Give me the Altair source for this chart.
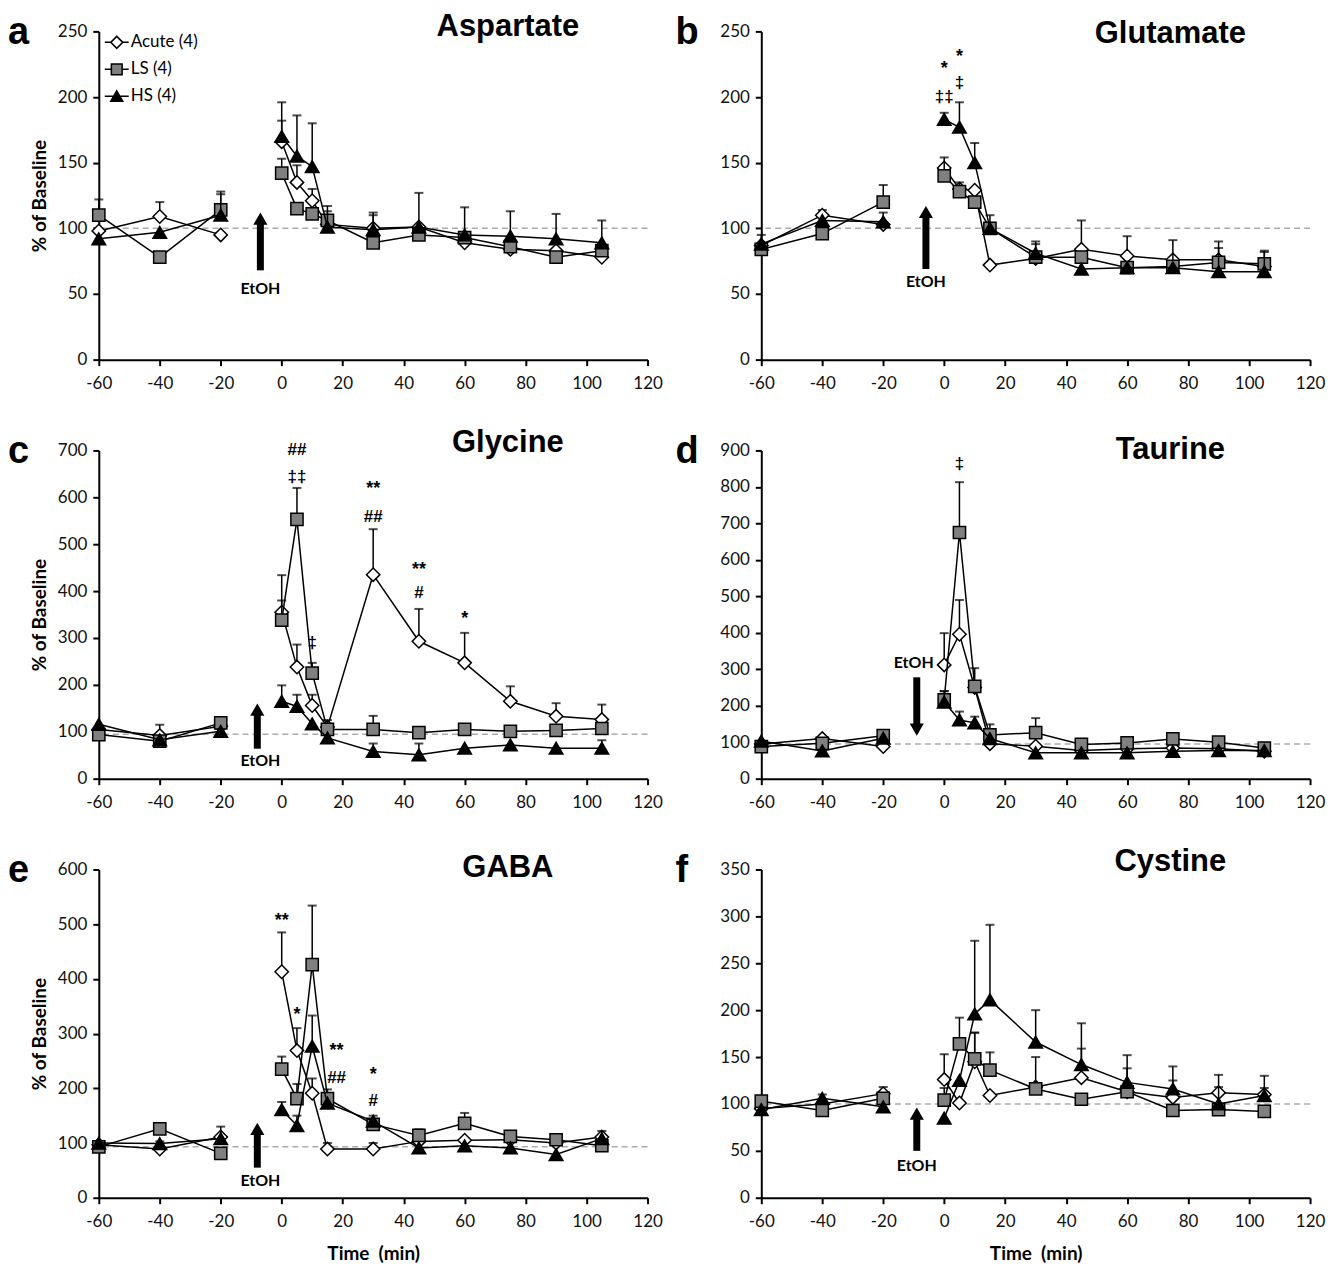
import altair as alt
import pandas as pd

# ---------------- data ----------------
TIME = [-60, -40, -20, 0, 5, 10, 15, 30, 45, 60, 75, 90, 105]
SERIES = ["Acute", "LS", "HS"]
LEGEND_LABELS = ["Acute (4)", "LS (4)", "HS (4)"]

# a) Aspartate
ASP_ACUTE = [98, 109, 95, 166, 135, 121, 103, 100, 101, 89, 84, 83, 78]
ASP_ACUTE_UP = [None, 120, None, 182, 148, 130, None, 112, None, None, None, None, None]
ASP_LS = [110, 78, 114, 142, 115, 111, 106, 89, 95, 93, 86, 78, 83]
ASP_LS_UP = [122, None, 128, 153, None, None, 117, None, None, None, None, None, None]
ASP_HS = [92, 97, 110, 170, 155, 147, 101, 99, 101, 95, 94, 92, 89]
ASP_HS_UP = [None, None, 126, 196, 186, 180, 113, 110, 127, 116, 113, 111, 106]

# b) Glutamate
GLU_ACUTE = [87, 110, 103, 146, 130, 129, 72, 77, 84, 79, 76, 76, 71]
GLU_ACUTE_UP = [None, 114, None, None, None, None, None, None, 106, 94, None, 90, None]
GLU_LS = [84, 96, 120, 140, 128, 120, 100, 78, 78, 70, 71, 74, 73]
GLU_LS_UP = [95, None, 133, 154, 135, None, 110, 90, None, None, 91, None, 83]
GLU_HS = [88, 106, 105, 183, 177, 150, 100, 81, 69, 70, 70, 67, 67]
GLU_HS_UP = [None, None, 112, 188, 196, 165, None, 88, None, None, None, 85, 82]

# c) Glycine
GLY_ACUTE = [105, 92, 112, 355, 238, 156, 110, 435, 293, 247, 165, 133, 126]
GLY_ACUTE_UP = [None, 115, None, 434, 286, 179, None, 532, 362, 311, 197, 161, 158]
GLY_LS = [94, 80, 119, 338, 553, 225, 105, 105, 98, 105, 101, 103, 107]
GLY_LS_UP = [None, None, 128, 380, 620, 247, 125, 134, None, None, None, None, None]
GLY_HS = [116, 83, 101, 165, 154, 117, 87, 58, 51, 65, 72, 65, 65]
GLY_HS_UP = [None, None, None, 199, 179, None, None, 75, 75, None, None, None, 82]

# d) Taurine
TAU_ACUTE = [95, 110, 88, 312, 396, 250, 96, 89, 77, 82, 84, 82, 75]
TAU_ACUTE_UP = [None, None, None, 399, 490, None, None, None, None, None, None, None, None]
TAU_LS = [88, 97, 118, 216, 675, 253, 120, 126, 94, 98, 109, 100, 84]
TAU_LS_UP = [None, None, None, 240, 813, 303, 149, 166, None, None, None, None, None]
TAU_HS = [103, 76, 111, 210, 161, 153, 110, 71, 71, 71, 75, 77, 77]
TAU_HS_UP = [None, None, None, 240, 184, 170, None, None, None, None, None, None, None]

# e) GABA
GABA_ACUTE = [97, 89, 111, 413, 269, 191, 89, 89, 103, 105, 106, 100, 111]
GABA_ACUTE_UP = [None, 103, None, 485, 310, 218, 100, 100, None, None, None, None, None]
GABA_LS = [93, 126, 81, 235, 181, 426, 181, 134, 114, 136, 112, 106, 95]
GABA_LS_UP = [None, None, None, 258, 208, 534, 198, None, 125, 155, None, 112, None]
GABA_HS = [100, 99, 108, 161, 132, 277, 173, 140, 91, 95, 91, 79, 108]
GABA_HS_UP = [None, None, 130, 175, 150, 333, None, 150, None, None, None, None, 122]

# f) Cystine
CYS_ACUTE = [95, 100, 111, 126, 101, 145, 109, 118, 128, 113, 107, 112, 110]
CYS_ACUTE_UP = [None, None, 118, 153, None, 176, None, None, 159, 138, 125, 131, 117]
CYS_LS = [103, 93, 106, 104, 164, 148, 136, 116, 105, 113, 93, 94, 92]
CYS_LS_UP = [None, None, None, 117, 192, 176, 155, 150, None, None, None, None, None]
CYS_HS = [94, 106, 97, 85, 125, 196, 211, 166, 142, 123, 116, 100, 109]
CYS_HS_UP = [None, 110, None, None, None, 274, 291, 200, 186, 152, 140, 118, 130]

# significance marks: time, level, text
GLU_MARK_T = [0, 0, 5, 5]
GLU_MARK_V = [223, 200, 232, 211]
GLU_MARK_TXT = ["*", "‡‡", "*", "‡"]
GLY_MARK_T = [5, 5, 10, 30, 30, 45, 45, 60]
GLY_MARK_V = [700, 644, 290, 621, 557, 450, 395, 344]
GLY_MARK_TXT = ["##", "‡‡", "‡", "**", "##", "**", "#", "*"]
TAU_MARK_T = [5]
TAU_MARK_V = [864]
TAU_MARK_TXT = ["‡"]
GABA_MARK_T = [0, 5, 18, 18, 30, 30]
GABA_MARK_V = [510, 337, 272, 219, 228, 176]
GABA_MARK_TXT = ["**", "*", "**", "##", "*", "#"]

# EtOH arrows: time, tail level, tip level, label level
ARROW_T = [-7, -6, -8, -9, -8, -9]
ARROW_TAIL = [68, 69, 64, 278, 55, 50]
ARROW_TIP = [112, 117, 160, 118, 137, 96]
ARROW_LABEL_T = [-7, -6, -7, -10, -7, -9]
ARROW_LABEL_V = [54, 59, 38, 316, 31, 34]

PANEL_TITLES = ["Aspartate", "Glutamate", "Glycine", "Taurine", "GABA", "Cystine"]
PANEL_LETTERS = ["a", "b", "c", "d", "e", "f"]
Y_MAX = [250, 250, 700, 900, 600, 350]
Y_STEP = [50, 50, 100, 100, 100, 50]
BASELINE = [100, 100, 95, 95, 93, 100]

VALUES = [
    (ASP_ACUTE, ASP_ACUTE_UP, ASP_LS, ASP_LS_UP, ASP_HS, ASP_HS_UP),
    (GLU_ACUTE, GLU_ACUTE_UP, GLU_LS, GLU_LS_UP, GLU_HS, GLU_HS_UP),
    (GLY_ACUTE, GLY_ACUTE_UP, GLY_LS, GLY_LS_UP, GLY_HS, GLY_HS_UP),
    (TAU_ACUTE, TAU_ACUTE_UP, TAU_LS, TAU_LS_UP, TAU_HS, TAU_HS_UP),
    (GABA_ACUTE, GABA_ACUTE_UP, GABA_LS, GABA_LS_UP, GABA_HS, GABA_HS_UP),
    (CYS_ACUTE, CYS_ACUTE_UP, CYS_LS, CYS_LS_UP, CYS_HS, CYS_HS_UP),
]
MARKS = [None, (GLU_MARK_T, GLU_MARK_V, GLU_MARK_TXT), (GLY_MARK_T, GLY_MARK_V, GLY_MARK_TXT),
         (TAU_MARK_T, TAU_MARK_V, TAU_MARK_TXT), (GABA_MARK_T, GABA_MARK_V, GABA_MARK_TXT), None]

# ---------------- styling ----------------
W, H = 550, 329
LABEL_FONT = "Lato"
TITLE_FONT = "Liberation Sans"
MARK_FONT = "Liberation Sans"
STYLE = {
    "Acute": dict(shape="diamond", fill="white", size=180),
    "LS": dict(shape="square", fill="#808080", size=150),
    "HS": dict(shape="triangle-up", fill="black", size=185),
}
LEGEND_PATHS = [
    "M-1,0H-0.5M0,-0.5L0.5,0L0,0.5L-0.5,0ZM0.5,0H1",
    "M-1,0H-0.45M-0.45,-0.45H0.45V0.45H-0.45ZM0.45,0H1",
    "M-1,0H-0.26M0,-0.45L0.5,0.42L-0.5,0.42ZM0.26,0H1",
]


def make_panel(i):
    is_left = i % 2 == 0
    is_bottom = i >= 4
    ymax, ystep = Y_MAX[i], Y_STEP[i]
    xscale = alt.Scale(domain=[-60, 120], nice=False)
    yscale = alt.Scale(domain=[0, ymax], nice=False)
    xaxis = alt.Axis(values=list(range(-60, 121, 20)), labelFlush=False,
                     labelExpr="'' + datum.value")
    yaxis = alt.Axis(values=list(range(0, ymax + 1, ystep)), labelExpr="'' + datum.value")
    xtitle = "Time \u00a0(min)" if is_bottom else None
    ytitle = "% of Baseline" if is_left else None

    def X(field="time"):
        return alt.X(f"{field}:Q", scale=xscale, axis=xaxis, title=xtitle)

    def Y(field="value"):
        return alt.Y(f"{field}:Q", scale=yscale, axis=yaxis, title=ytitle)

    vals = VALUES[i]
    rows = []
    for k, s in enumerate(SERIES):
        v, up = vals[2 * k], vals[2 * k + 1]
        for t, a, b in zip(TIME, v, up):
            rows.append({"time": t, "value": a, "upper": b, "series": s,
                         "seg": "pre" if t < 0 else "post"})
    df = pd.DataFrame(rows)

    layers = []
    base_df = pd.DataFrame({"value": [BASELINE[i]]})
    layers.append(
        alt.Chart(base_df).mark_rule(color="#ababab", strokeDash=[6, 4], strokeWidth=1.5)
        .encode(y=Y())
    )

    base = alt.Chart(df)
    for s in SERIES:
        d = base.transform_filter(alt.datum.series == s)
        st = STYLE[s]
        layers.append(d.mark_line(color="black", strokeWidth=1.5)
                      .encode(x=X(), y=Y(), detail="seg:N"))
        de = d.transform_filter("isValid(datum.upper)")
        layers.append(de.mark_rule(color="black", strokeWidth=1.5).encode(x=X(), y=Y(), y2="upper:Q"))
        layers.append(de.mark_tick(orient="horizontal", size=9, thickness=2, color="black")
                      .encode(x=X(), y=Y("upper")))
        layers.append(d.mark_point(shape=st["shape"], filled=True, fill=st["fill"], stroke="black",
                                   strokeWidth=1.5, size=st["size"], opacity=1)
                      .encode(x=X(), y=Y()))

    # EtOH arrow
    up = ARROW_TIP[i] > ARROW_TAIL[i]
    arr = pd.DataFrame({"time": [ARROW_T[i]], "value": [ARROW_TAIL[i]], "tip": [ARROW_TIP[i]]})
    layers.append(alt.Chart(arr).mark_rule(color="black", strokeWidth=7,
                                           y2Offset=8 if up else -8)
                  .encode(x=X(), y=Y(), y2="tip:Q"))
    layers.append(alt.Chart(arr).mark_point(shape="triangle-up" if up else "triangle-down",
                                            filled=True, color="black", size=200, opacity=1,
                                            yOffset=6 if up else -6)
                  .encode(x=X(), y=Y("tip")))
    lab = pd.DataFrame({"time": [ARROW_LABEL_T[i]], "value": [ARROW_LABEL_V[i]], "txt": ["EtOH"]})
    layers.append(alt.Chart(lab).mark_text(font=LABEL_FONT, fontWeight="bold", fontSize=16,
                                           baseline="middle", align="center", color="black")
                  .encode(x=X(), y=Y(), text="txt:N"))

    # significance marks
    if MARKS[i] is not None:
        mt, mv, mtxt = MARKS[i]
        mdf = pd.DataFrame({"time": mt, "value": mv, "txt": mtxt})
        star = mdf[mdf["txt"].str.contains(r"\*")]
        other = mdf[~mdf["txt"].str.contains(r"\*")]
        if len(star):
            layers.append(alt.Chart(star).mark_text(font=MARK_FONT, fontWeight="bold", fontSize=18,
                                                    baseline="middle", align="center", color="black",
                                                    dy=2)
                          .encode(x=X(), y=Y(), text="txt:N"))
        if len(other):
            layers.append(alt.Chart(other).mark_text(font=MARK_FONT, fontWeight="bold", fontSize=17,
                                                     baseline="middle", align="center", color="black")
                          .encode(x=X(), y=Y(), text="txt:N"))

    # panel title and letter
    tdf = pd.DataFrame({"txt": [PANEL_TITLES[i]]})
    title_y = [-4, 3, -7, 0, -1, -7][i]
    layers.append(alt.Chart(tdf).mark_text(font=TITLE_FONT, fontWeight="bold", fontSize=31,
                                           align="center", baseline="middle", color="black")
                  .encode(x=alt.value(410), y=alt.value(title_y), text="txt:N"))
    ldf = pd.DataFrame({"txt": [PANEL_LETTERS[i]]})
    layers.append(alt.Chart(ldf).mark_text(font=MARK_FONT, fontWeight="bold", fontSize=38,
                                           align="left", baseline="alphabetic", color="black")
                  .encode(x=alt.value(-91 if is_left else -86), y=alt.value(13), text="txt:N"))

    # legend (panel a only)
    if i == 0:
        legdf = pd.DataFrame({"time": [-60] * 3, "value": [100] * 3, "label": LEGEND_LABELS})
        leg = alt.Legend(title=None, orient="none", legendX=5, legendY=-2,
                         symbolSize=576, symbolStrokeWidth=1.5,
                         symbolOpacity=1, labelFont=LABEL_FONT, labelFontSize=17,
                         labelColor="black", labelOffset=1, rowPadding=5, padding=0)
        lscale = alt.Scale(domain=LEGEND_LABELS, range=LEGEND_PATHS)
        layers.append(alt.Chart(legdf).mark_point(filled=False, strokeWidth=1.5, opacity=0)
                      .encode(x=X(), y=Y(),
                              shape=alt.Shape("label:N", scale=lscale, legend=leg),
                              fill=alt.Fill("label:N", scale=alt.Scale(domain=LEGEND_LABELS,
                                                                       range=["white", "#808080", "black"]),
                                            legend=leg),
                              stroke=alt.Stroke("label:N", scale=alt.Scale(domain=LEGEND_LABELS,
                                                                           range=["black", "black", "black"]),
                                                legend=leg)))

    return alt.layer(*layers).properties(width=W, height=H)


panels = [make_panel(i) for i in range(6)]

chart = (
    alt.concat(*panels, columns=2, spacing={"row": 91, "column": 114}, bounds="flush")
    .properties(padding={"left": 0, "top": 2, "right": 5, "bottom": 5}, background="white")
    .configure_view(stroke=None)
    .configure_axis(domainColor="black", domainWidth=2, tickColor="black", tickWidth=2,
                    tickSize=6, labelFont=LABEL_FONT, labelFontSize=17, labelColor="#111111",
                    labelPadding=6, titleFont=LABEL_FONT, titleFontSize=19, titleFontWeight="bold",
                    titleColor="black", grid=False)
    .configure_axisX(labelPadding=10, titlePadding=15)
    .configure_axisY(titlePadding=8)
)

chart.save("out.html", embed_options={"renderer": "svg", "actions": False})
